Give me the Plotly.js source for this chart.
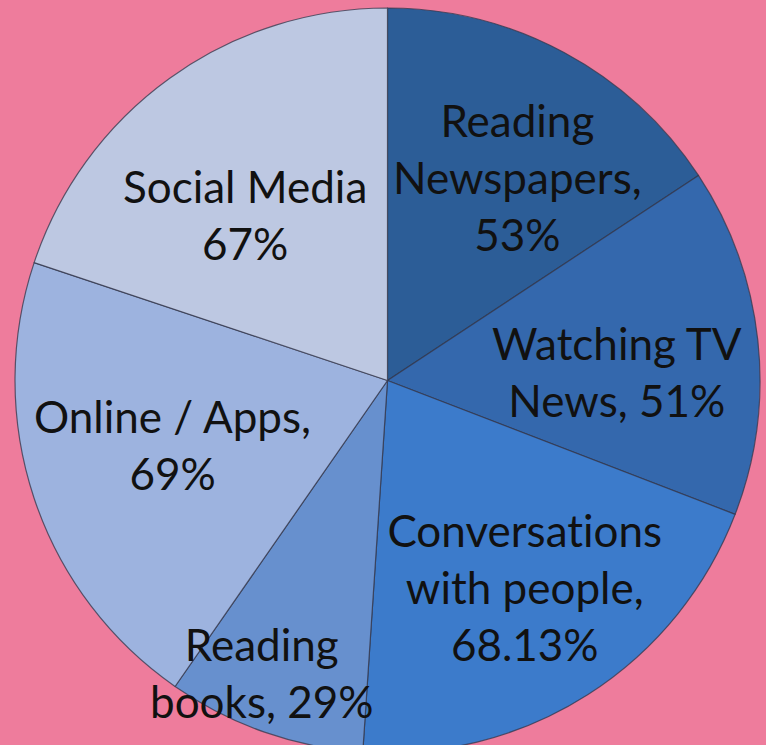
<!DOCTYPE html>
<html>
<head>
<meta charset="utf-8">
<script src="https://cdn.plot.ly/plotly-3.0.1.min.js"></script>
<style>
html, body { margin: 0; padding: 0; background: #EE7C9C; overflow: hidden; }
#chart { width: 766px; height: 753px; }
#chart text { font-variant-ligatures: none; font-feature-settings: "liga" 0; }
</style>
</head>
<body>
<div id="chart"></div>
<script>
// Data
var categories = ["Reading Newspapers", "Watching TV News", "Conversations with people", "Reading books", "Online / Apps", "Social Media"];
var values = [53, 51, 68.13, 29, 69, 67];
var labelTexts = [
  "Reading<br>Newspapers,<br>53%",
  "Watching TV<br>News, 51%",
  "Conversations<br>with people,<br>68.13%",
  "Reading<br>books, 29%",
  "Online / Apps,<br>69%",
  "Social Media<br>67%"
];

// Styling (not data)
var sliceColors = ["#2C5D97", "#3468AD", "#3C7BCB", "#6790CE", "#9DB3DF", "#BDC8E2"];
// label centre positions in pixels within the figure
var labelPx = [[517, 177], [617, 371], [525, 587], [262, 672], [172, 444], [245, 214]];

var W = 766, H = 753;
var M = {l: 15, r: 6, t: 8, b: 0};
var plotW = W - M.l - M.r, plotH = H - M.t - M.b;

var annotations = labelTexts.map(function (t, i) {
  return {
    text: t,
    xref: "paper", yref: "paper",
    x: (labelPx[i][0] - M.l) / plotW,
    y: 1 - (labelPx[i][1] - M.t) / plotH,
    xanchor: "center", yanchor: "middle",
    showarrow: false,
    align: "center",
    font: {family: "Lato, 'Open Sans', sans-serif", size: 44, color: "#111111"}
  };
});

var trace = {
  type: "pie",
  labels: categories,
  values: values,
  sort: false,
  direction: "clockwise",
  rotation: 0,
  textinfo: "none",
  hoverinfo: "label+value",
  marker: {colors: sliceColors, line: {color: "rgba(50,55,75,0.75)", width: 1.2}},
  showlegend: false
};

var layout = {
  width: W, height: H,
  margin: M,
  paper_bgcolor: "#EE7C9C",
  plot_bgcolor: "#EE7C9C",
  showlegend: false,
  annotations: annotations
};

Plotly.newPlot("chart", [trace], layout, {displayModeBar: false, staticPlot: true});
</script>
</body>
</html>
